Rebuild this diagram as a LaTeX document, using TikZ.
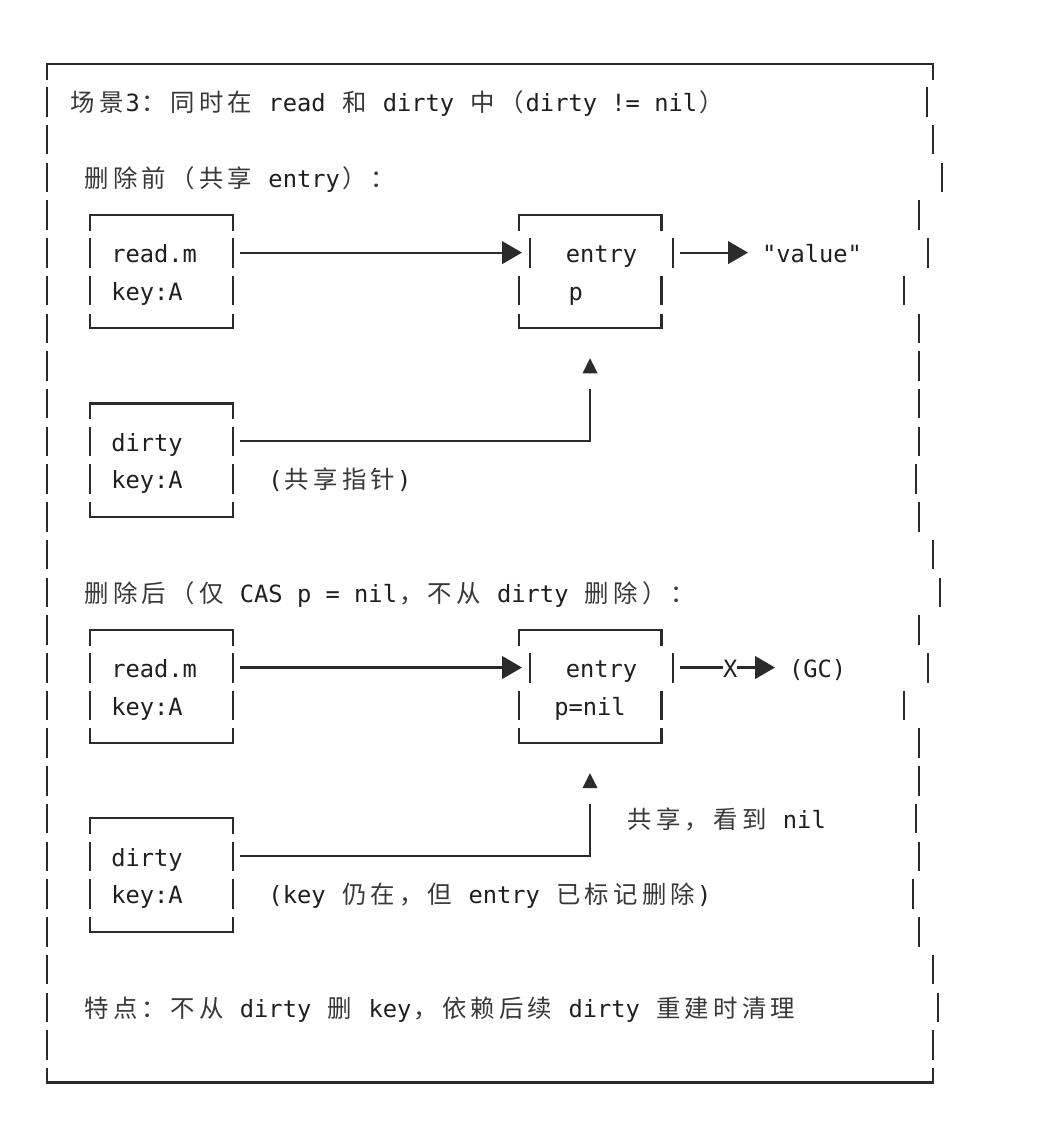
\documentclass[tikz,border=0pt]{standalone}
\usepackage{fontspec}
\setmonofont{DejaVu Sans Mono}
\newfontfamily\cjkf{Noto Sans CJK SC}
\usetikzlibrary{arrows.meta,fit,calc}
\definecolor{ink}{HTML}{1F1F1F}
\definecolor{zhink}{HTML}{383838}
\definecolor{lnc}{HTML}{2B2B2B}
\newlength\zhw
\setlength\zhw{21.435pt}
\def\zhend{\zhend}
\def\zhloop#1{\ifx\zhend#1\else\makebox[\zhw][c]{\textcolor{zhink}{\cjkf\fontsize{18.3pt}{22pt}\selectfont #1}}\expandafter\zhloop\fi}
\newcommand\zh[1]{\zhloop#1\zhend}
\tikzset{
  ln/.style={draw=lnc,line width=1.6pt},
  conn/.style={ln,-{Triangle[length=15pt,width=17pt]}},
  txt/.style={anchor=base west,inner sep=0pt,outer sep=0pt,text=ink,
    font=\ttfamily\fontsize{17.8pt}{22pt}\selectfont},
}
\newcommand\asciibox[5]{%
  \coordinate (#1-nw) at (#2,{ry(#4)});
  \coordinate (#1-se) at (#3,{ry(#4+3)});
  \node[fit=(#1-nw)(#1-se),inner sep=0pt,outer sep=0pt] (#1) {};
  \draw[ln] (#2,{ry(#4)+16}) -- (#2,{ry(#4)}) -- (#3,{ry(#4)}) -- (#3,{ry(#4)+16});
  \draw[ln] ({#2+#5},{ry(#4+1)-14.5}) -- ++(0,29.5);
  \draw[ln] ({#3+#5},{ry(#4+1)-14.5}) -- ++(0,29.5);
  \draw[ln] (#2,{ry(#4+2)-14.5}) -- ++(0,29.5);
  \draw[ln] (#3,{ry(#4+2)-14.5}) -- ++(0,29.5);
  \draw[ln] (#2,{ry(#4+3)-14.5}) -- (#2,{ry(#4+3)}) -- (#3,{ry(#4+3)}) -- (#3,{ry(#4+3)-14.5});
}
\begin{document}
\begin{tikzpicture}[x=0.75pt,y=-0.75pt,
  declare function={ry(\n)=64+37.72*\n; cx(\k)=39.85+14.29*\k;}]
\fill[white] (0,0) rectangle (1062,1135);
\useasboundingbox (0,0) rectangle (1062,1135);

% outer frame
\draw[ln] (47,{ry(0)+16}) -- (47,{ry(0)}) -- (933,{ry(0)}) -- (933,{ry(0)+16});
\draw[ln] (47,{ry(27)-14.5}) -- (47,{ry(27)}) -- (933,{ry(27)}) -- (933,{ry(27)-14.5});
\foreach \n in {1,...,26} {\draw[ln] (47,{ry(\n)-14.5}) -- (47,{ry(\n)+15});}
\foreach \n/\xx in {1/927,2/933,3/942,4/919,5/928,6/904,7/919,8/919,9/919,10/919,11/916,12/919,13/933,14/940,15/919,16/928,17/904,18/919,19/919,20/916,21/919,22/913,23/919,24/933,25/938,26/933}
  {\draw[ln] (\xx,{ry(\n)-14.5}) -- (\xx,{ry(\n)+15});}

% row coordinates
\foreach \n in {5,10,16,21} {\coordinate (r\n) at (0,{ry(\n)});}

% boxes
\asciibox{rm1}{90}{233}{4}{0}
\asciibox{en1}{518.6}{661.5}{4}{11.5}
\asciibox{dt1}{90}{233}{9}{0}
\asciibox{rm2}{90}{233}{15}{0}
\asciibox{en2}{518.6}{661.5}{15}{11.5}
\asciibox{dt2}{90}{233}{20}{0}

% texts
\node[txt] (title) at ({cx(2)},{ry(1)+10}) {\zh{场景}3\zh{：同时在} read \zh{和} dirty \zh{中（}dirty != nil\zh{）}};
\node[txt] (before) at ({cx(3)},{ry(3)+10}) {\zh{删除前（共享} entry\zh{）：}};
\node[txt] (trm1) at ({cx(5)},{ry(5)+10}) {read.m};
\node[txt] (tk1) at ({cx(5)},{ry(6)+10}) {key:A};
\node[txt] (ten1) at (565.8,{ry(5)+10}) {entry};
\node[txt] (tp1) at ({cx(37)},{ry(6)+10}) {p};
\node[txt] (val1) at (762,{ry(5)+10}) {"value"};
\node[txt] (tdt1) at ({cx(5)},{ry(10)+10}) {dirty};
\node[txt] (tk2) at ({cx(5)},{ry(11)+10}) {key:A};
\node[txt] (share1) at ({cx(16)},{ry(11)+10}) {(\zh{共享指针})};
\node[txt] (after) at ({cx(3)},{ry(14)+10}) {\zh{删除后（仅} CAS p = nil\zh{，不从} dirty \zh{删除）：}};
\node[txt] (trm2) at ({cx(5)},{ry(16)+10}) {read.m};
\node[txt] (tk3) at ({cx(5)},{ry(17)+10}) {key:A};
\node[txt] (ten2) at (565.8,{ry(16)+10}) {entry};
\node[txt] (tp2) at ({cx(36)},{ry(17)+10}) {p=nil};
\node[txt] (xm) at (723,{ry(16)+10}) {X};
\node[txt] (gc) at (789,{ry(16)+10}) {(GC)};
\node[txt] (seen) at ({cx(41)},{ry(20)+10}) {\zh{共享，看到} nil};
\node[txt] (tdt2) at ({cx(5)},{ry(21)+10}) {dirty};
\node[txt] (tk4) at ({cx(5)},{ry(22)+10}) {key:A};
\node[txt] (note2) at ({cx(16)},{ry(22)+10}) {(key \zh{仍在，但} entry \zh{已标记删除})};
\node[txt] (feat) at ({cx(3)},{ry(25)+10}) {\zh{特点：不从} dirty \zh{删} key\zh{，依赖后续} dirty \zh{重建时清理}};

% connectors: before
\draw[conn] ($(rm1.east |- r5)+(7,0)$) -- ($(en1.west |- r5)+(3.4,0)$);
\draw[conn] ($(en1.east |- r5)+(18.5,0)$) -- ($(val1.west |- r5)+(-14,0)$);
\coordinate (up1) at (590,{ry(9)-14.5});
\draw[ln] ($(dt1.east |- r10)+(7,0)$) -| (up1);
\fill[lnc] (582.5,{ry(8)+7.5}) -- (597.5,{ry(8)+7.5}) -- (590,{ry(8)-7.5}) -- cycle;

% connectors: after
\draw[conn] ($(rm2.east |- r16)+(7,0)$) -- ($(en2.west |- r16)+(3.4,0)$);
\draw[ln] ($(en2.east |- r16)+(18.5,0)$) -- (xm.west |- r16);
\draw[conn] (xm.east |- r16) -- ($(gc.west |- r16)+(-14,0)$);
\coordinate (up2) at (590,{ry(20)-14.5});
\draw[ln] ($(dt2.east |- r21)+(7,0)$) -| (up2);
\fill[lnc] (582.5,{ry(19)+7.5}) -- (597.5,{ry(19)+7.5}) -- (590,{ry(19)-7.5}) -- cycle;
\end{tikzpicture}
\end{document}
